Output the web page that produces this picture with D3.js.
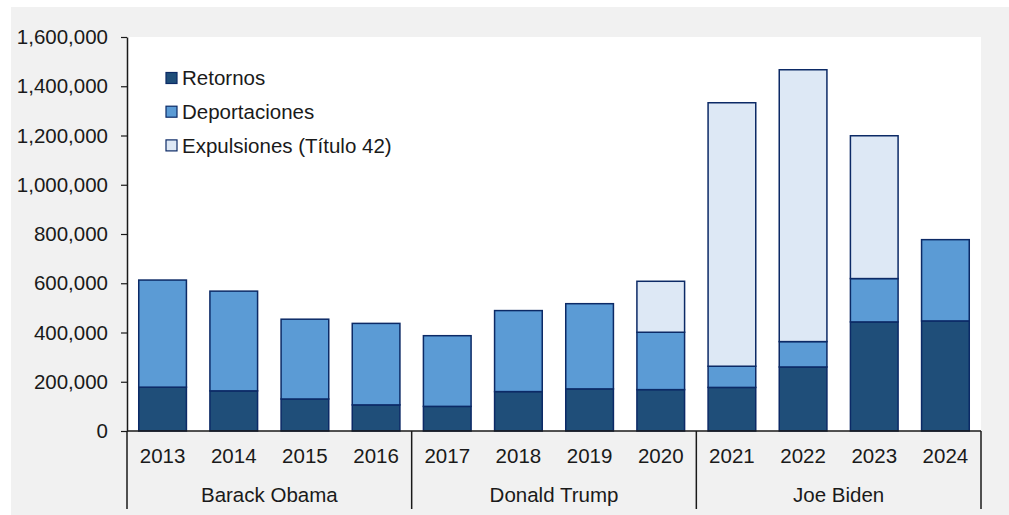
<!DOCTYPE html>
<html>
<head>
<meta charset="utf-8">
<script src="https://cdn.jsdelivr.net/npm/d3@7"></script>
<style>
  body { margin: 0; background: #ffffff; }
  svg { display: block; font-family: "Liberation Sans", Arial, Helvetica, sans-serif; }
</style>
</head>
<body>
<svg id="chart" width="1009" height="515"></svg>
<script>
// Fiscal years and administrations
const years = ["2013", "2014", "2015", "2016", "2017", "2018", "2019", "2020", "2021", "2022", "2023", "2024"];
const presidents = ["Barack Obama", "Donald Trump", "Joe Biden"];
const presidentFirstYear = ["2013", "2017", "2021"];
const presidentLastYear = ["2016", "2020", "2024"];

// Series values (people)
const retornos      = [178000, 163000, 130000, 106000, 100000, 160000, 171000, 168000, 177000, 260000, 443000, 447000];
const deportaciones = [435000, 405000, 324000, 331000, 287000, 329000, 346000, 233000,  86000, 103000, 176000, 330000];
const expulsiones   = [     0,      0,      0,      0,      0,      0,      0, 207000, 1070000, 1104000, 580000,      0];

const seriesNames = ["Retornos", "Deportaciones", "Expulsiones (Título 42)"];
const seriesColors = ["#1f4e79", "#5b9bd5", "#dde8f5"];
const yTicks = [0, 200000, 400000, 600000, 800000, 1000000, 1200000, 1400000, 1600000];

const rows = years.map((yr, i) => ({
  year: yr,
  [seriesNames[0]]: retornos[i],
  [seriesNames[1]]: deportaciones[i],
  [seriesNames[2]]: expulsiones[i]
}));

const svg = d3.select("#chart");
const W = 1009, H = 515;
const plotLeft = 127, plotRight = 981, plotTop = 37, plotBottom = 431;
const ink = "#1a1a1a";
const barStroke = "#0c2a66";
const fontSize = 20.5;

// Panel backgrounds
svg.append("rect").attr("x", 11).attr("y", 7).attr("width", W - 11).attr("height", H - 7).attr("fill", "#f1f1f1");
svg.append("rect").attr("x", plotLeft).attr("y", plotTop).attr("width", plotRight - plotLeft).attr("height", plotBottom - plotTop).attr("fill", "#ffffff");

const x = d3.scaleBand().domain(years).range([plotLeft, plotRight]).paddingInner(0.33).paddingOuter(0.165);
const y = d3.scaleLinear().domain([0, 1600000]).range([plotBottom, plotTop]);

const stacked = d3.stack().keys(seriesNames)(rows);

// Stacked bars
const layers = svg.append("g").selectAll("g")
  .data(stacked)
  .join("g")
  .attr("fill", (d, i) => seriesColors[i]);

layers.selectAll("rect")
  .data(d => d.filter(p => p[1] - p[0] > 0))
  .join("rect")
  .attr("x", d => x(d.data.year))
  .attr("width", x.bandwidth())
  .attr("y", d => y(d[1]))
  .attr("height", d => y(d[0]) - y(d[1]))
  .attr("stroke", barStroke)
  .attr("stroke-width", 1.5);

// Value axis
const yAxis = svg.append("g")
  .attr("transform", `translate(${plotLeft},0)`)
  .call(d3.axisLeft(y).tickValues(yTicks).tickFormat(d3.format(",")).tickSize(6).tickSizeOuter(0).tickPadding(13));
yAxis.select(".domain").attr("stroke", ink).attr("stroke-width", 1.5);
yAxis.selectAll(".tick line").attr("stroke", ink).attr("stroke-width", 1.2);
yAxis.selectAll(".tick text").attr("font-size", fontSize).attr("fill", ink);
yAxis.attr("font-family", null).attr("font-size", null);

// Category axis baseline
svg.append("line")
  .attr("x1", plotLeft).attr("x2", plotRight)
  .attr("y1", plotBottom).attr("y2", plotBottom)
  .attr("stroke", ink).attr("stroke-width", 1.5);

// Year labels
svg.append("g").selectAll("text")
  .data(years)
  .join("text")
  .attr("x", d => x(d) + x.bandwidth() / 2)
  .attr("y", 463)
  .attr("text-anchor", "middle")
  .attr("font-size", fontSize)
  .attr("fill", ink)
  .text(d => d);

// Administration groups
const gap = (x.step() - x.bandwidth()) / 2;
const groupStart = presidentFirstYear.map(yr => x(yr) - gap);
const groupEnd = presidentLastYear.map(yr => x(yr) + x.bandwidth() + gap);
const boundaries = [groupStart[0], ...groupEnd];

svg.append("g").selectAll("line")
  .data(boundaries)
  .join("line")
  .attr("x1", d => d).attr("x2", d => d)
  .attr("y1", plotBottom).attr("y2", 509)
  .attr("stroke", ink).attr("stroke-width", 1.5);

svg.append("g").selectAll("text")
  .data(presidents)
  .join("text")
  .attr("x", (d, i) => (groupStart[i] + groupEnd[i]) / 2)
  .attr("y", 502)
  .attr("text-anchor", "middle")
  .attr("font-size", fontSize)
  .attr("fill", ink)
  .text(d => d);

// Legend
const legend = svg.append("g").selectAll("g")
  .data(seriesNames)
  .join("g")
  .attr("transform", (d, i) => `translate(166,${78 + i * 33.7})`);

legend.append("rect")
  .attr("x", 0).attr("y", -5.5)
  .attr("width", 11).attr("height", 11)
  .attr("fill", (d, i) => seriesColors[i])
  .attr("stroke", barStroke)
  .attr("stroke-width", 1.2);

legend.append("text")
  .attr("x", 16)
  .attr("y", 0)
  .attr("dy", "0.36em")
  .attr("font-size", fontSize)
  .attr("fill", ink)
  .text(d => d);
</script>
</body>
</html>
